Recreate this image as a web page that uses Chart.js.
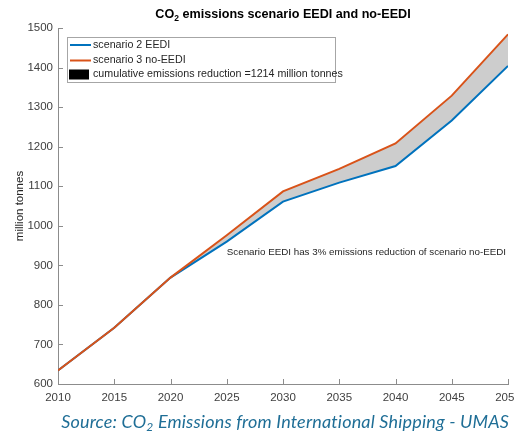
<!DOCTYPE html>
<html>
<head>
<meta charset="utf-8">
<script src="https://cdn.jsdelivr.net/npm/chart.js@4"></script>
<style>
    html, body { margin: 0; padding: 0; background: #fff; overflow: hidden; }
    #wrap { position: relative; width: 514px; height: 433px; }
    #source {
        position: absolute; right: 5px; top: 410px;
        font: italic 18px Lato, "Open Sans", sans-serif;
        letter-spacing: 0.17px;
        color: #1f6e96;
        white-space: nowrap;
    }
    #source sub { font-size: 12px; vertical-align: -3px; }
</style>
</head>
<body>
<div id="wrap">
    <canvas id="chart" width="514" height="433"></canvas>
    <div id="source">Source: CO<sub>2</sub> Emissions from International Shipping - UMAS</div>
</div>
<script>
const years = [2010, 2015, 2020, 2025, 2030, 2035, 2040, 2045, 2050];
const eedi = [634, 742, 869, 960, 1061, 1109, 1151, 1266, 1404];
const noEedi = [634, 742, 869, 976, 1087, 1144, 1208, 1329, 1484];
const seriesNames = ['scenario 2 EEDI', 'scenario 3 no-EEDI', 'cumulative emissions reduction =1214 million tonnes'];
const noteText = 'Scenario EEDI has 3% emissions reduction of scenario no-EEDI';

const toPoints = (vals) => years.map((x, i) => ({x: x, y: vals[i]}));

const tickFont = {family: '"Liberation Sans", Arial, sans-serif', size: 11.5};
const axisGrey = '#8c8c8c';

// title, legend box, inward ticks and the note
const extras = {
    id: 'extras',
    afterDraw(chart) {
        const ctx = chart.ctx;
        const x = chart.scales.x, y = chart.scales.y;
        ctx.save();

        // inward tick marks
        ctx.strokeStyle = axisGrey;
        ctx.lineWidth = 1;
        ctx.beginPath();
        x.ticks.forEach(t => {
            const px = Math.round(x.getPixelForValue(t.value)) + 0.5;
            ctx.moveTo(px, x.top);
            ctx.lineTo(px, x.top - 5);
        });
        y.ticks.forEach(t => {
            const py = Math.round(y.getPixelForValue(t.value)) + 0.5;
            ctx.moveTo(y.right, py);
            ctx.lineTo(y.right + 5, py);
        });
        ctx.stroke();

        // title with subscript
        ctx.fillStyle = '#000';
        ctx.textBaseline = 'alphabetic';
        ctx.textAlign = 'left';
        const big = 'bold 12.6px "Liberation Sans", Arial, sans-serif';
        const small = 'bold 8.5px "Liberation Sans", Arial, sans-serif';
        const rest = ' emissions scenario EEDI and no-EEDI';
        ctx.font = big;
        const w1 = ctx.measureText('CO').width, w3 = ctx.measureText(rest).width;
        ctx.font = small;
        const w2 = ctx.measureText('2').width;
        let tx = (chart.chartArea.left + chart.chartArea.right) / 2 - (w1 + w2 + w3) / 2;
        const ty = 18;
        ctx.font = big;
        ctx.fillText('CO', tx, ty);
        ctx.font = small;
        ctx.fillText('2', tx + w1, ty + 3);
        ctx.font = big;
        ctx.fillText(rest, tx + w1 + w2, ty);

        // legend
        ctx.fillStyle = '#fff';
        ctx.fillRect(67.5, 37.5, 268, 45);
        ctx.strokeStyle = '#a6a6a6';
        ctx.strokeRect(67.5, 37.5, 268, 45);
        ctx.font = '10.7px "Liberation Sans", Arial, sans-serif';
        ctx.textBaseline = 'middle';
        const ds = chart.data.datasets;
        [45, 60.5, 74.5].forEach((ry, i) => {
            if (i < 2) {
                ctx.strokeStyle = ds[i].borderColor;
                ctx.lineWidth = 2;
                ctx.beginPath();
                ctx.moveTo(70, ry);
                ctx.lineTo(91, ry);
                ctx.stroke();
            } else {
                ctx.fillStyle = '#000';
                ctx.fillRect(69, ry - 5, 20, 10);
            }
            ctx.fillStyle = '#262626';
            ctx.fillText(ds[i].label, 93, ry);
        });

        // note
        ctx.font = '9.8px "Liberation Sans", Arial, sans-serif';
        ctx.fillStyle = '#262626';
        ctx.fillText(noteText, x.getPixelForValue(2025), y.getPixelForValue(933));

        ctx.restore();
    }
};

const config = {
    type: 'line',
    data: {
        datasets: [{
            label: seriesNames[0],
            data: toPoints(eedi),
            borderColor: '#0072bd',
            borderWidth: 2,
            fill: false,
            order: 1
        }, {
            label: seriesNames[1],
            data: toPoints(noEedi),
            borderColor: '#d95319',
            borderWidth: 2,
            fill: false,
            order: 0
        }, {
            label: seriesNames[2],
            data: toPoints(noEedi),
            borderWidth: 0,
            borderColor: 'rgba(0,0,0,0)',
            backgroundColor: '#cdcdcd',
            fill: 0,
            order: 2
        }]
    },
    options: {
        responsive: false,
        animation: false,
        layout: {
            padding: {top: 28, right: 6, left: 0, bottom: 0}
        },
        elements: {
            point: { radius: 0 },
            line: { tension: 0 }
        },
        plugins: {
            legend: false,
            tooltip: false,
            title: false
        },
        scales: {
            x: {
                type: 'linear',
                min: 2010,
                max: 2050,
                grid: { display: false, drawTicks: false },
                border: { color: axisGrey },
                ticks: {
                    stepSize: 5,
                    maxRotation: 0,
                    padding: 7,
                    color: '#404040',
                    font: tickFont,
                    callback: (v) => String(v)
                },
                afterFit: (s) => { s.height = 49; s.paddingRight = 0; }
            },
            y: {
                min: 600,
                max: 1500,
                grid: { display: false, drawTicks: false },
                border: { color: axisGrey },
                title: {
                    display: true,
                    text: 'million tonnes',
                    color: '#262626',
                    font: tickFont,
                    padding: {top: 13, bottom: 0}
                },
                ticks: {
                    stepSize: 100,
                    padding: 5,
                    color: '#404040',
                    font: tickFont,
                    callback: (v) => String(v)
                },
                afterFit: (s) => { s.width = 58; }
            }
        }
    },
    plugins: [extras]
};

var myChart = new Chart(
    document.getElementById('chart'),
    config
);
</script>
</body>
</html>
